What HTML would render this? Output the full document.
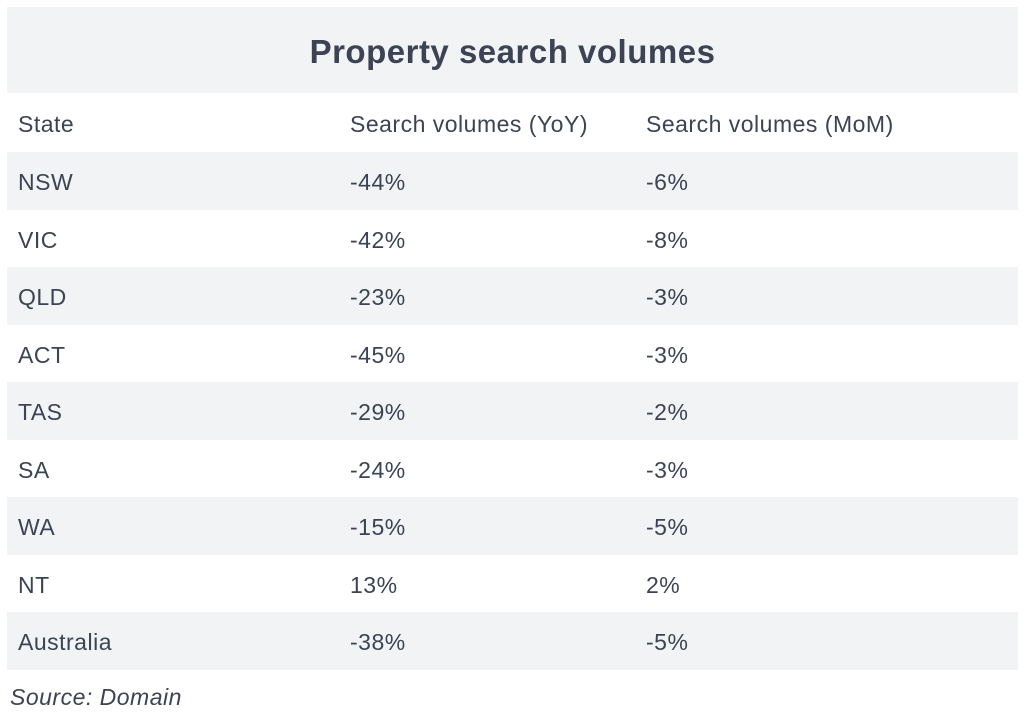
<!DOCTYPE html>
<html><head><meta charset="utf-8"><style>
body{margin:0;width:1024px;height:717px;background:#fff;font-family:"Liberation Sans",sans-serif;color:#3b4354;position:relative;overflow:hidden}
.title{position:absolute;left:7px;top:7px;width:1011px;height:86px;background:#f2f3f5;font-weight:bold;font-size:33px;letter-spacing:0.5px;text-align:center;line-height:90px;color:#3b4354}
.row{position:absolute;left:7px;width:1011px;height:57.5px;font-size:23px;letter-spacing:0.5px;line-height:60px}
.row.g{background:#f2f3f5}
.row span{position:absolute;top:0}
.c1{left:11px}.c2{left:343px}.c3{left:639px}
.src{position:absolute;left:10px;top:684px;font-style:italic;font-size:23px;letter-spacing:0.5px}
</style></head><body>
<div class="title">Property search volumes</div>
<div class="row" style="top:93px;height:59px;line-height:62px"><span class="c1">State</span><span class="c2">Search volumes (YoY)</span><span class="c3">Search volumes (MoM)</span></div>
<div id="rows"></div>
<div class="src">Source: Domain</div>
<script>
const states=["NSW","VIC","QLD","ACT","TAS","SA","WA","NT","Australia"];
const yoy=["-44%","-42%","-23%","-45%","-29%","-24%","-15%","13%","-38%"];
const mom=["-6%","-8%","-3%","-3%","-2%","-3%","-5%","2%","-5%"];
const c=document.getElementById('rows');
states.forEach((s,i)=>{
const r=document.createElement('div');
r.className='row'+(i%2===0?' g':'');
r.style.top=(152+i*57.5)+'px';


r.innerHTML='<span class="c1">'+s+'</span><span class="c2">'+yoy[i]+'</span><span class="c3">'+mom[i]+'</span>';
c.appendChild(r);
});
</script>
</body></html>
